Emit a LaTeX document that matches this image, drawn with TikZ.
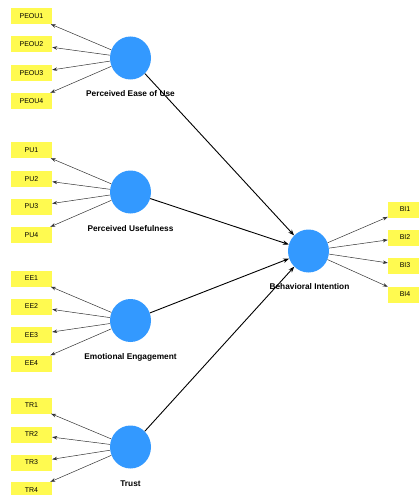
\documentclass[tikz,border=0pt]{standalone}
\usepackage{fontspec}
\setmainfont{Liberation Sans}
\usetikzlibrary{arrows.meta,shapes.geometric}
\definecolor{lvblue}{RGB}{51,153,255}
\definecolor{indyellow}{RGB}{255,250,80}
\tikzset{
  lv/.style={ellipse, fill=lvblue, draw=none, minimum width=41pt, minimum height=43pt, inner sep=0pt},
  ind/.style={rectangle, fill=indyellow, draw=none, minimum width=41pt, minimum height=16pt, inner sep=0pt, font=\fontsize{7}{8}\selectfont},
  indbi/.style={ind, minimum width=34pt},
  lvlabel/.style={font=\fontsize{8.3}{9}\selectfont\bfseries, inner sep=0pt},
  outer/.style={-{Stealth[length=5pt,width=3.5pt]}, draw=black!80, line width=0.5pt},
  inner/.style={-{Stealth[length=6pt,width=4.5pt]}, draw=black, line width=0.9pt}
}
\begin{document}
\begin{tikzpicture}[x=1pt,y=-1pt]
\useasboundingbox (0,0) rectangle (419,495);
% latent variables
\node[lv] (peou) at (130.5,58) {};
\node[lv] (pu) at (130.5,192) {};
\node[lv] (ee) at (130.5,320.5) {};
\node[lv] (tr) at (130.5,447) {};
\node[lv] (bi) at (308.5,251) {};
% labels
\node[lvlabel] (lpeou) at (130.5,94) {Perceived Ease of Use};
\node[lvlabel] (lpu) at (130.5,229) {Perceived Usefulness};
\node[lvlabel] (lee) at (130.5,357) {Emotional Engagement};
\node[lvlabel] (ltr) at (130.5,484) {Trust};
\node[lvlabel] (lbi) at (309.5,287) {Behavioral Intention};
% indicators
\node[ind] (peou1) at (31.5,16) {PEOU1};
\node[ind] (peou2) at (31.5,44.5) {PEOU2};
\node[ind] (peou3) at (31.5,73) {PEOU3};
\node[ind] (peou4) at (31.5,101) {PEOU4};
\node[ind] (pu1) at (31.5,150) {PU1};
\node[ind] (pu2) at (31.5,179) {PU2};
\node[ind] (pu3) at (31.5,206.5) {PU3};
\node[ind] (pu4) at (31.5,235) {PU4};
\node[ind] (ee1) at (31.5,278.5) {EE1};
\node[ind] (ee2) at (31.5,306.5) {EE2};
\node[ind] (ee3) at (31.5,335) {EE3};
\node[ind] (ee4) at (31.5,363.5) {EE4};
\node[ind] (tr1) at (31.5,405.5) {TR1};
\node[ind] (tr2) at (31.5,434.5) {TR2};
\node[ind] (tr3) at (31.5,462.5) {TR3};
\node[ind] (tr4) at (31.5,490) {TR4};
\node[indbi] (bi1) at (405,209.5) {BI1};
\node[indbi] (bi2) at (405,237.5) {BI2};
\node[indbi] (bi3) at (405,265.5) {BI3};
\node[indbi] (bi4) at (405,294.5) {BI4};
% outer arrows
\foreach \l/\i in {peou/peou1,peou/peou2,peou/peou3,peou/peou4,pu/pu1,pu/pu2,pu/pu3,pu/pu4,ee/ee1,ee/ee2,ee/ee3,ee/ee4,tr/tr1,tr/tr2,tr/tr3,tr/tr4,bi/bi1,bi/bi2,bi/bi3,bi/bi4}
  \draw[outer] (\l) -- (\i);
% inner arrows
\foreach \l in {peou,pu,ee,tr}
  \draw[inner] (\l) -- (bi);
\end{tikzpicture}
\end{document}
